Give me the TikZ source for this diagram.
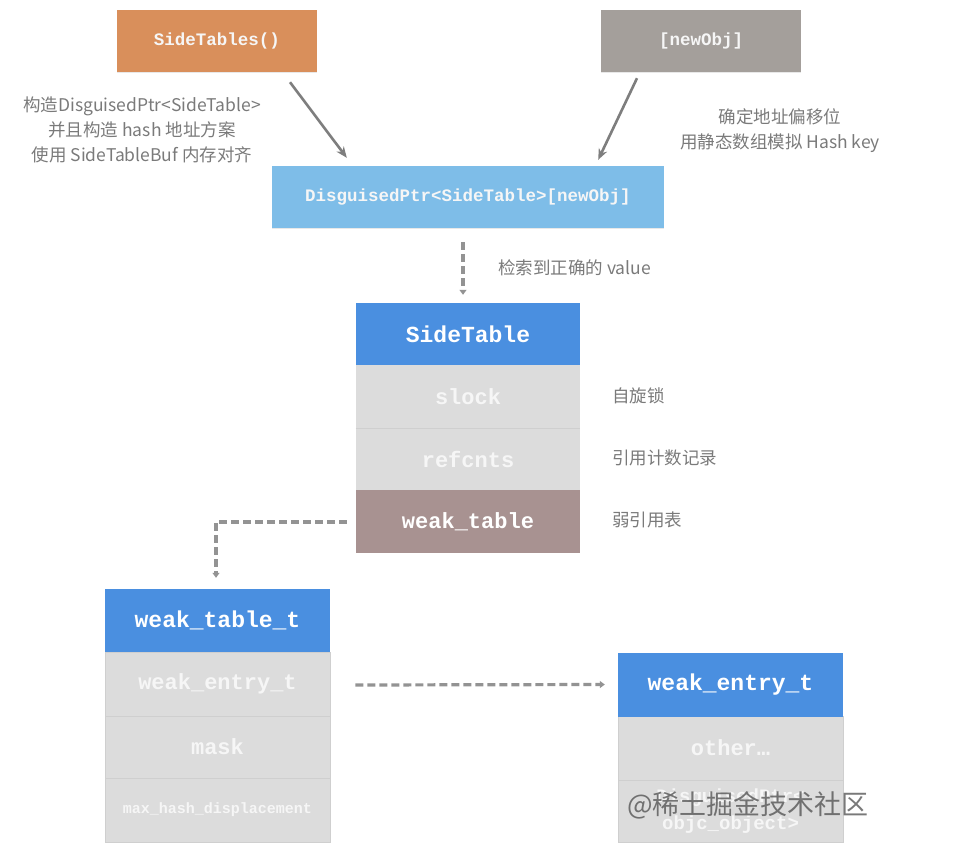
\documentclass[tikz,border=0pt]{standalone}
\usepackage{fontspec}
\setmonofont{Liberation Mono}
\newfontfamily\cjk{Noto Sans CJK SC}
\usetikzlibrary{arrows.meta,calc,shadows}
\definecolor{orangebox}{HTML}{D98F5B}
\definecolor{graybox}{HTML}{A49F9B}
\definecolor{lightblue}{HTML}{7EBDE8}
\definecolor{hdrblue}{HTML}{4A8FE0}
\definecolor{rowgray}{HTML}{DCDCDC}
\definecolor{rowline}{HTML}{CFCFCF}
\definecolor{brownbox}{HTML}{A89291}
\definecolor{rowtext}{HTML}{F6F6F6}
\definecolor{notegray}{HTML}{7A7A7A}
\definecolor{arrowgray}{HTML}{7E7E7E}
\definecolor{dashgray}{HTML}{939393}
\begin{document}
\begin{tikzpicture}[x=1pt,y=-1pt,
  boxshadow/.style={drop shadow={opacity=0.18,shadow xshift=0pt,shadow yshift=-1.5pt}},
  topbox/.style={rectangle,inner sep=0pt,minimum width=200pt,minimum height=62pt,
    text=rowtext,font=\ttfamily\bfseries\fontsize{17.5}{20}\selectfont,boxshadow},
  header/.style={rectangle,inner sep=0pt,fill=hdrblue,minimum width=225pt,minimum height=63pt,
    text=white,font=\ttfamily\bfseries\fontsize{23}{26}\selectfont},
  rowbox/.style={rectangle,inner sep=0pt,fill=rowgray,draw=rowline,line width=0.8pt,
    minimum width=225pt,minimum height=63pt,text=rowtext,
    font=\ttfamily\bfseries\fontsize{22}{26}\selectfont},
  note/.style={text=notegray,font=\cjk\fontsize{17.5}{25}\selectfont,align=center,inner sep=0pt},
  arr/.style={draw=arrowgray,line width=2.6pt,-{Stealth[length=11pt,width=9pt]}},
  darr/.style={draw=dashgray,line width=3.2pt,dash pattern=on 8pt off 4pt,
    -{Triangle[length=5pt,width=7pt]}}
]
\useasboundingbox (0,0) rectangle (973,866);

% top boxes
\node[topbox,fill=orangebox] (st) at (217,41) {SideTables()};
\node[topbox,fill=graybox] (no) at (701,41) {[newObj]};
\node[topbox,fill=lightblue,minimum width=392pt] (dp) at (468,197) {DisguisedPtr<SideTable>[newObj]};

% notes
\node[note] (n1) at (142,130) {构造DisguisedPtr<SideTable>\\并且构造 hash 地址方案\\使用 SideTableBuf 内存对齐};
\node[note] (n2) at (780,130.5) {确定地址偏移位\\用静态数组模拟 Hash key};

% SideTable
\node[header,minimum width=224pt,minimum height=62pt,boxshadow] (sth) at (468,334) {SideTable};
\node[rowbox,minimum width=224pt,draw=none] (sl) at (468,396.5) {slock};
\node[rowbox,minimum width=224pt,minimum height=62pt,draw=none] (rc) at (468,459) {refcnts};
\node[rowbox,minimum width=224pt,fill=brownbox,draw=none,text=white] (wt) at (468,521.5) {weak\_table};
\draw[rowline,line width=0.6pt] (sl.south west) -- (sl.south east);

\node[note,anchor=west] (l0) at (498,268) {检索到正确的 value};
\node[note,anchor=west] (l1) at (612,396) {自旋锁};
\node[note,anchor=west] (l2) at (612,458) {引用计数记录};
\node[note,anchor=west] (l3) at (612,520) {弱引用表};

% weak_table_t
\node[rowbox,minimum height=64pt] (wet) at (217.5,684) {weak\_entry\_t};
\node[rowbox,minimum height=62pt] (mk) at (217.5,747) {mask};
\node[rowbox,minimum height=64pt,font=\ttfamily\bfseries\fontsize{15}{18}\selectfont] (mh) at (217.5,810) {max\_hash\_displacement};
\node[header] (wtt) at (217.5,620.5) {weak\_table\_t};

% weak_entry_t
\node[rowbox,minimum height=64pt] (ot) at (730.5,748) {other…};
\node[rowbox,minimum height=62pt,align=center,font=\ttfamily\bfseries\fontsize{19}{27}\selectfont] (dpo) at (730.5,811) {DisguisedPtr<\\objc\_object>};
\node[header,minimum height=64pt] (weh) at (730.5,684.5) {weak\_entry\_t};

% connectors
\draw[arr] ($(st.south)+(73,10)$) -- ($(dp.north west)+(75,-8)$);
\draw[arr] ($(no.south)+(-64,6)$) -- ($(dp.north east)+(-66,-6)$);
\draw[darr] ($(dp.south)+(-5,14)$) -- ($(sth.north)+(-5,-8)$);
\coordinate (wtend) at ($(wtt.north)+(-1.5,-11)$);
\draw[darr] ($(wt.west)+(-9,0.5)$) -| (wtend);
\draw[darr] ($(wet.east)+(25,1)$) -- ($(weh.west)+(-13,0)$);

% watermark
\node[text=black!70,opacity=0.75,font=\cjk\fontsize{27}{30}\selectfont,inner sep=0pt] (wm) at (748,805) {@稀土掘金技术社区};
\end{tikzpicture}
\end{document}
